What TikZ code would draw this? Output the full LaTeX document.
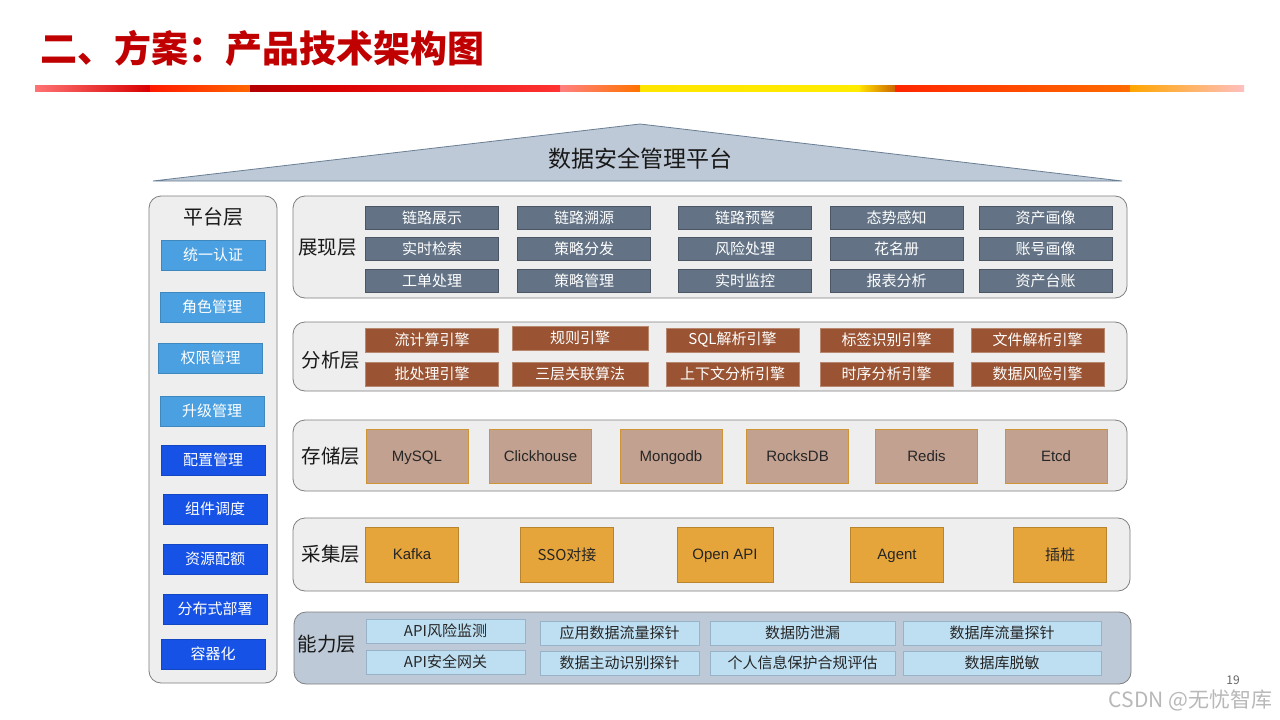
\documentclass[tikz,border=0pt]{standalone}
\usepackage{fontspec}
\setmainfont{Noto Sans CJK SC}
\newfontfamily\latfont{Liberation Sans}
\definecolor{arcRed}{HTML}{C00000}
\definecolor{arcEdge}{HTML}{7F7F7F}
\definecolor{arcPanel}{HTML}{EEEEEE}
\definecolor{arcRoof}{HTML}{BDC9D6}
\definecolor{arcRoofEdge}{HTML}{6A7E94}
\definecolor{arcSlate}{HTML}{637385}
\definecolor{arcBrown}{HTML}{9A5433}
\definecolor{arcTan}{HTML}{C3A190}
\definecolor{arcOrange}{HTML}{E6A53A}
\definecolor{arcIce}{HTML}{BEDEF1}
\definecolor{arcSky}{HTML}{4AA0E0}
\definecolor{arcBlue}{HTML}{1652E6}
\tikzset{
  arc panel/.style={draw=arcEdge, fill=arcPanel, line width=0.8pt, rounded corners=12pt},
  arc layer/.style={font=\fontsize{19.5}{20}\selectfont, text=black!90},
  arc box/.style={line width=0.6pt, inner sep=0pt, font=\fontsize{15}{16}\selectfont},
  arc latin/.style={font=\fontsize{15}{16}\selectfont\latfont, text height=10.7pt, text depth=0pt},
  arc show/.style={arc box, draw=arcSlate!75!black, fill=arcSlate, text=white, minimum width=133pt, minimum height=23pt},
  arc engine/.style={arc box, draw=arcBrown!70!white, fill=arcBrown, text=white, minimum width=133pt, minimum height=24pt},
  arc store/.style={arc box, arc latin, draw=arcOrange!90!black, fill=arcTan, text=black!85, minimum width=102pt, minimum height=54pt},
  arc collect/.style={arc box, draw=arcOrange!80!black, fill=arcOrange, text=black!85, minimum width=93pt, minimum height=55pt},
  arc ability/.style={arc box, draw=arcIce!55!arcRoofEdge, fill=arcIce, text=black!85, minimum height=24pt},
  arc light/.style={arc box, draw=arcSky!85!black, fill=arcSky, text=white, minimum width=104pt, minimum height=30pt},
  arc dark/.style={arc box, draw=arcBlue!85!black, fill=arcBlue, text=white, minimum width=104pt, minimum height=30pt},
}

\begin{document}
\begin{tikzpicture}[x=1pt,y=-1pt]
  \fill[white] (0,0) rectangle (1280,720);
  \useasboundingbox (0,0) rectangle (1280,720);
  % Title and coloured stripe
  \node[anchor=west, inner sep=0pt, text=arcRed, font=\fontsize{37}{40}\selectfont\bfseries] (title) at (40,48) {二、方案：产品技术架构图};
  \shade[left color=red!55!white, right color=red!85!black] (35,85) rectangle (150,91);
  \shade[left color=red!80!orange, right color=orange!80!red] (150,85) rectangle (250,91);
  \shade[left color=red!70!black, right color=red!85!black] (250,85) rectangle (330,91);
  \shade[left color=red!85!black, right color=red!80!white] (330,85) rectangle (560,91);
  \shade[left color=red!50!white, right color=orange!90!red] (560,85) rectangle (640,91);
  \shade[left color=yellow!80!orange, right color=yellow!85!orange] (640,85) rectangle (860,91);
  \shade[left color=yellow!75!orange, right color=orange!80!black] (860,85) rectangle (895,91);
  \shade[left color=red!70!orange, right color=orange!85!red] (895,85) rectangle (1130,91);
  \shade[left color=orange!70!yellow, right color=red!25!white] (1130,85) rectangle (1244,91);
  % Roof
  \draw[fill=arcRoof, draw=arcRoofEdge, line width=0.8pt] (153,181) -- (640,124) -- (1122,181) -- cycle;
  \node[font=\fontsize{23}{24}\selectfont, text=black!90] (roof) at (640,159) {数据安全管理平台};
  % Platform column
  \draw[arc panel] (149,196) rectangle (277,683);
  \node[font=\fontsize{20}{21}\selectfont, text=black!90] (plat) at (213,217) {平台层};
  \node[arc light] (auth) at (213,255) {统一认证};
  \node[arc light] (role) at (212,307) {角色管理};
  \node[arc light] (perm) at (210.5,358) {权限管理};
  \node[arc light] (upgr) at (212,411) {升级管理};
  \node[arc dark] (conf) at (213,460) {配置管理};
  \node[arc dark] (sched) at (215,509) {组件调度};
  \node[arc dark] (quota) at (215,559) {资源配额};
  \node[arc dark] (deploy) at (215,609) {分布式部署};
  \node[arc dark] (cont) at (213,654) {容器化};
  % Presentation layer
  \draw[arc panel] (293,196) rectangle (1127,298);
  \node[arc layer] (show) at (327.5,248) {展现层};
  \node[arc show] (show-11) at (432,218) {链路展示};
  \node[arc show] (show-12) at (584,218) {链路溯源};
  \node[arc show] (show-13) at (745,218) {链路预警};
  \node[arc show] (show-14) at (896.5,218) {态势感知};
  \node[arc show] (show-15) at (1045.5,218) {资产画像};
  \node[arc show] (show-21) at (432,249) {实时检索};
  \node[arc show] (show-22) at (584,249) {策略分发};
  \node[arc show] (show-23) at (745,249) {风险处理};
  \node[arc show] (show-24) at (896.5,249) {花名册};
  \node[arc show] (show-25) at (1045.5,249) {账号画像};
  \node[arc show] (show-31) at (432,281) {工单处理};
  \node[arc show] (show-32) at (584,281) {策略管理};
  \node[arc show] (show-33) at (745,281) {实时监控};
  \node[arc show] (show-34) at (896.5,281) {报表分析};
  \node[arc show] (show-35) at (1045.5,281) {资产台账};
  % Analysis layer
  \draw[arc panel] (293,322) rectangle (1127,391);
  \node[arc layer] (ana) at (331,360) {分析层};
  \node[arc engine] (ana-11) at (432,340) {流计算引擎};
  \node[arc engine, minimum width=136pt] (ana-12) at (580,338) {规则引擎};
  \node[arc engine] (ana-13) at (732.5,340) {SQL解析引擎};
  \node[arc engine] (ana-14) at (886.5,340) {标签识别引擎};
  \node[arc engine] (ana-15) at (1037.5,340) {文件解析引擎};
  \node[arc engine] (ana-21) at (432,374) {批处理引擎};
  \node[arc engine, minimum width=136pt] (ana-22) at (580,374) {三层关联算法};
  \node[arc engine] (ana-23) at (732.5,374) {上下文分析引擎};
  \node[arc engine] (ana-24) at (886.5,374) {时序分析引擎};
  \node[arc engine] (ana-25) at (1037.5,374) {数据风险引擎};
  % Storage layer
  \draw[arc panel] (293,420) rectangle (1127,491);
  \node[arc layer] (store) at (331,456) {存储层};
  \node[arc store] (mysql) at (417,456) {MySQL};
  \node[arc store] (click) at (540.5,456) {Clickhouse};
  \node[arc store] (mongo) at (671,456) {Mongodb};
  \node[arc store] (rocks) at (797.5,456) {RocksDB};
  \node[arc store] (redis) at (926.5,456) {Redis};
  \node[arc store] (etcd) at (1056,456) {Etcd};
  % Collection layer
  \draw[arc panel] (293,518) rectangle (1130,591);
  \node[arc layer] (coll) at (331,554) {采集层};
  \node[arc collect, arc latin] (kafka) at (412,554.5) {Kafka};
  \node[arc collect] (sso) at (567,554.5) {SSO对接};
  \node[arc collect, arc latin, minimum width=96pt] (oapi) at (725,554.5) {Open API};
  \node[arc collect, arc latin] (agent) at (897,554.5) {Agent};
  \node[arc collect] (stake) at (1060,554.5) {插桩};
  % Capability layer
  \draw[arc panel, fill=arcRoof] (294,612) rectangle (1131,684);
  \node[arc layer] (abil) at (327,644) {能力层};
  \node[arc ability, minimum width=159pt] (abil-11) at (445.5,631) {API风险监测};
  \node[arc ability, minimum width=159pt] (abil-12) at (619.5,633) {应用数据流量探针};
  \node[arc ability, minimum width=185pt] (abil-13) at (802.5,633) {数据防泄漏};
  \node[arc ability, minimum width=198pt] (abil-14) at (1002,633) {数据库流量探针};
  \node[arc ability, minimum width=159pt] (abil-21) at (445.5,662) {API安全网关};
  \node[arc ability, minimum width=159pt] (abil-22) at (619.5,663) {数据主动识别探针};
  \node[arc ability, minimum width=185pt] (abil-23) at (802.5,663) {个人信息保护合规评估};
  \node[arc ability, minimum width=198pt] (abil-24) at (1002,663) {数据库脱敏};
  % Page number and watermark
  \node[font=\fontsize{12}{13}\selectfont, text=black!60] (page) at (1233,680) {19};
  \node[anchor=east, font=\fontsize{21}{22}\selectfont, text=black!28] (mark) at (1276,700) {CSDN @无忧智库};
\end{tikzpicture}
\end{document}
